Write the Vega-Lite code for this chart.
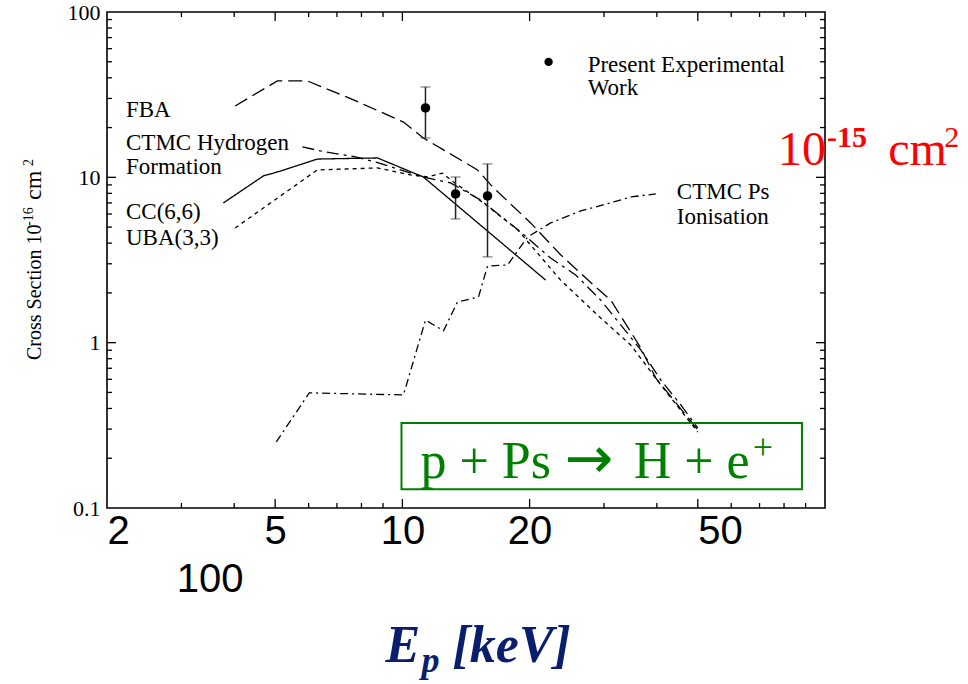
{
  "$schema": "https://vega.github.io/schema/vega-lite/v6.json",
  "width": 718,
  "height": 496,
  "autosize": "none",
  "padding": {"left": 107, "top": 12, "right": 143, "bottom": 176},
  "background": "white",
  "config": {"view": {"stroke": "black", "strokeWidth": 1.6}, "font": "Liberation Serif"},
  "datasets": {
    "curves": [
      {"model": "FBA", "x": 4.02, "y": 27.0}, {"model": "FBA", "x": 5.06, "y": 38.3}, {"model": "FBA", "x": 5.96, "y": 38.3},
      {"model": "FBA", "x": 7.66, "y": 29.4}, {"model": "FBA", "x": 10.06, "y": 21.6}, {"model": "FBA", "x": 11.21, "y": 17.3},
      {"model": "FBA", "x": 15.06, "y": 11.09}, {"model": "FBA", "x": 16.35, "y": 8.75}, {"model": "FBA", "x": 20.11, "y": 5.3},
      {"model": "FBA", "x": 23.68, "y": 3.4}, {"model": "FBA", "x": 28.68, "y": 2.17}, {"model": "FBA", "x": 31.12, "y": 1.81},
      {"model": "FBA", "x": 36.65, "y": 0.929}, {"model": "FBA", "x": 39.78, "y": 0.611}, {"model": "FBA", "x": 50.0, "y": 0.297},
      {"model": "CTMC H", "x": 5.8, "y": 15.3}, {"model": "CTMC H", "x": 6.39, "y": 14.45}, {"model": "CTMC H", "x": 7.74, "y": 13.29},
      {"model": "CTMC H", "x": 8.78, "y": 12.22}, {"model": "CTMC H", "x": 11.21, "y": 10.05}, {"model": "CTMC H", "x": 13.0, "y": 9.25},
      {"model": "CTMC H", "x": 15.3, "y": 7.3}, {"model": "CTMC H", "x": 19.04, "y": 4.67}, {"model": "CTMC H", "x": 22.43, "y": 3.25},
      {"model": "CTMC H", "x": 25.7, "y": 2.57}, {"model": "CTMC H", "x": 29.46, "y": 1.81}, {"model": "CTMC H", "x": 32.86, "y": 1.28},
      {"model": "CTMC H", "x": 36.65, "y": 0.904}, {"model": "CTMC H", "x": 40.88, "y": 0.594}, {"model": "CTMC H", "x": 45.59, "y": 0.42},
      {"model": "CTMC H", "x": 50.0, "y": 0.305},
      {"model": "CC", "x": 3.77, "y": 7.0}, {"model": "CC", "x": 4.69, "y": 10.2}, {"model": "CC", "x": 5.14, "y": 10.9},
      {"model": "CC", "x": 6.29, "y": 12.9}, {"model": "CC", "x": 8.73, "y": 13.1}, {"model": "CC", "x": 11.21, "y": 10.05},
      {"model": "CC", "x": 21.83, "y": 2.39},
      {"model": "UBA", "x": 4.02, "y": 4.94}, {"model": "UBA", "x": 6.29, "y": 11.09}, {"model": "UBA", "x": 8.73, "y": 11.4},
      {"model": "UBA", "x": 10.45, "y": 10.35}, {"model": "UBA", "x": 11.47, "y": 10.05}, {"model": "UBA", "x": 12.44, "y": 10.6},
      {"model": "UBA", "x": 13.21, "y": 9.38}, {"model": "UBA", "x": 15.56, "y": 7.0}, {"model": "UBA", "x": 18.74, "y": 4.81},
      {"model": "UBA", "x": 23.68, "y": 2.39}, {"model": "UBA", "x": 29.46, "y": 1.41}, {"model": "UBA", "x": 34.7, "y": 0.968},
      {"model": "UBA", "x": 40.88, "y": 0.555}, {"model": "UBA", "x": 50.0, "y": 0.288},
      {"model": "CTMC Ps", "x": 5.03, "y": 0.251}, {"model": "CTMC Ps", "x": 6.02, "y": 0.497}, {"model": "CTMC Ps", "x": 10.06, "y": 0.483},
      {"model": "CTMC Ps", "x": 11.34, "y": 1.37}, {"model": "CTMC Ps", "x": 12.51, "y": 1.18}, {"model": "CTMC Ps", "x": 13.5, "y": 1.76},
      {"model": "CTMC Ps", "x": 15.14, "y": 1.89}, {"model": "CTMC Ps", "x": 15.9, "y": 2.91}, {"model": "CTMC Ps", "x": 17.74, "y": 2.95},
      {"model": "CTMC Ps", "x": 19.79, "y": 4.36}, {"model": "CTMC Ps", "x": 22.43, "y": 5.3}, {"model": "CTMC Ps", "x": 26.42, "y": 6.26},
      {"model": "CTMC Ps", "x": 31.63, "y": 7.1}, {"model": "CTMC Ps", "x": 34.7, "y": 7.61}, {"model": "CTMC Ps", "x": 39.78, "y": 7.94}
    ],
    "exp": [
      {"x": 11.34, "y": 26.3, "lo": 17.3, "hi": 35.2},
      {"x": 13.36, "y": 7.94, "lo": 5.6, "hi": 10.05},
      {"x": 15.9, "y": 7.72, "lo": 3.3, "hi": 12.05}
    ],
    "labels": [
      {"x": 2.218, "y": 25.6, "text": "FBA"},
      {"x": 2.218, "y": 16.15, "text": "CTMC Hydrogen"},
      {"x": 2.218, "y": 11.56, "text": "Formation"},
      {"x": 2.218, "y": 6.18, "text": "CC(6,6)"},
      {"x": 2.218, "y": 4.3, "text": "UBA(3,3)"},
      {"x": 27.44, "y": 47.9, "text": "Present Experimental"},
      {"x": 27.44, "y": 34.7, "text": "Work"},
      {"x": 44.6, "y": 8.16, "text": "CTMC Ps"},
      {"x": 44.6, "y": 5.76, "text": "Ionisation"}
    ],
    "xticks": [
      {"x": 5, "y": 0.1, "y2": 0.1134}, {"x": 10, "y": 0.1, "y2": 0.1134}, {"x": 20, "y": 0.1, "y2": 0.1134}, {"x": 50, "y": 0.1, "y2": 0.1134},
      {"x": 5, "y": 88.2, "y2": 100}, {"x": 10, "y": 88.2, "y2": 100}, {"x": 20, "y": 88.2, "y2": 100}, {"x": 50, "y": 88.2, "y2": 100},
      {"x": 3, "y": 0.1, "y2": 0.1072}, {"x": 4, "y": 0.1, "y2": 0.1072}, {"x": 6, "y": 0.1, "y2": 0.1072}, {"x": 7, "y": 0.1, "y2": 0.1072},
      {"x": 8, "y": 0.1, "y2": 0.1072}, {"x": 9, "y": 0.1, "y2": 0.1072}, {"x": 30, "y": 0.1, "y2": 0.1072}, {"x": 40, "y": 0.1, "y2": 0.1072},
      {"x": 60, "y": 0.1, "y2": 0.1072}, {"x": 70, "y": 0.1, "y2": 0.1072}, {"x": 80, "y": 0.1, "y2": 0.1072}, {"x": 90, "y": 0.1, "y2": 0.1072},
      {"x": 3, "y": 93.3, "y2": 100}, {"x": 4, "y": 93.3, "y2": 100}, {"x": 6, "y": 93.3, "y2": 100}, {"x": 7, "y": 93.3, "y2": 100},
      {"x": 8, "y": 93.3, "y2": 100}, {"x": 9, "y": 93.3, "y2": 100}, {"x": 30, "y": 93.3, "y2": 100}, {"x": 40, "y": 93.3, "y2": 100},
      {"x": 60, "y": 93.3, "y2": 100}, {"x": 70, "y": 93.3, "y2": 100}, {"x": 80, "y": 93.3, "y2": 100}, {"x": 90, "y": 93.3, "y2": 100}
    ],
    "yticks": [
      {"y": 1, "x": 2, "x2": 2.1}, {"y": 10, "x": 2, "x2": 2.1}, {"y": 1, "x": 95.2, "x2": 100}, {"y": 10, "x": 95.2, "x2": 100},
      {"y": 0.2, "x": 2, "x2": 2.055}, {"y": 0.3, "x": 2, "x2": 2.055}, {"y": 0.4, "x": 2, "x2": 2.055}, {"y": 0.5, "x": 2, "x2": 2.055},
      {"y": 0.6, "x": 2, "x2": 2.055}, {"y": 0.7, "x": 2, "x2": 2.055}, {"y": 0.8, "x": 2, "x2": 2.055}, {"y": 0.9, "x": 2, "x2": 2.055},
      {"y": 2, "x": 2, "x2": 2.055}, {"y": 3, "x": 2, "x2": 2.055}, {"y": 4, "x": 2, "x2": 2.055}, {"y": 5, "x": 2, "x2": 2.055},
      {"y": 6, "x": 2, "x2": 2.055}, {"y": 7, "x": 2, "x2": 2.055}, {"y": 8, "x": 2, "x2": 2.055}, {"y": 9, "x": 2, "x2": 2.055},
      {"y": 20, "x": 2, "x2": 2.055}, {"y": 30, "x": 2, "x2": 2.055}, {"y": 40, "x": 2, "x2": 2.055}, {"y": 50, "x": 2, "x2": 2.055},
      {"y": 60, "x": 2, "x2": 2.055}, {"y": 70, "x": 2, "x2": 2.055}, {"y": 80, "x": 2, "x2": 2.055}, {"y": 90, "x": 2, "x2": 2.055},
      {"y": 0.2, "x": 97.3, "x2": 100}, {"y": 0.3, "x": 97.3, "x2": 100}, {"y": 0.4, "x": 97.3, "x2": 100}, {"y": 0.5, "x": 97.3, "x2": 100},
      {"y": 0.6, "x": 97.3, "x2": 100}, {"y": 0.7, "x": 97.3, "x2": 100}, {"y": 0.8, "x": 97.3, "x2": 100}, {"y": 0.9, "x": 97.3, "x2": 100},
      {"y": 2, "x": 97.3, "x2": 100}, {"y": 3, "x": 97.3, "x2": 100}, {"y": 4, "x": 97.3, "x2": 100}, {"y": 5, "x": 97.3, "x2": 100},
      {"y": 6, "x": 97.3, "x2": 100}, {"y": 7, "x": 97.3, "x2": 100}, {"y": 8, "x": 97.3, "x2": 100}, {"y": 9, "x": 97.3, "x2": 100},
      {"y": 20, "x": 97.3, "x2": 100}, {"y": 30, "x": 97.3, "x2": 100}, {"y": 40, "x": 97.3, "x2": 100}, {"y": 50, "x": 97.3, "x2": 100},
      {"y": 60, "x": 97.3, "x2": 100}, {"y": 70, "x": 97.3, "x2": 100}, {"y": 80, "x": 97.3, "x2": 100}, {"y": 90, "x": 97.3, "x2": 100}
    ]
  },
  "resolve": {"axis": {"x": "independent", "y": "independent"}},
  "layer": [
    {
      "data": {"name": "xticks"},
      "mark": {"type": "rule", "color": "black", "strokeWidth": 1.3},
      "encoding": {
        "x": {"field": "x", "type": "quantitative", "scale": {"type": "log", "domain": [2, 100], "nice": false}, "axis": null},
        "y": {"field": "y", "type": "quantitative", "scale": {"type": "log", "domain": [0.1, 100], "nice": false}, "axis": null},
        "y2": {"field": "y2"}
      }
    },
    {
      "data": {"name": "yticks"},
      "mark": {"type": "rule", "color": "black", "strokeWidth": 1.3},
      "encoding": {
        "x": {"field": "x", "type": "quantitative", "scale": {"type": "log", "domain": [2, 100], "nice": false}, "axis": null},
        "x2": {"field": "x2"},
        "y": {"field": "y", "type": "quantitative", "scale": {"type": "log", "domain": [0.1, 100], "nice": false}, "axis": null}
      }
    },
    {
      "data": {"name": "curves"},
      "mark": {"type": "line", "color": "black", "strokeWidth": 1.3},
      "encoding": {
        "x": {"field": "x", "type": "quantitative", "scale": {"type": "log", "domain": [2, 100], "nice": false},
          "axis": {"orient": "bottom", "values": [2, 5, 10, 20, 50], "format": "d",
            "labelFont": "Liberation Sans", "labelFontSize": 40, "labelColor": "black",
            "labelAlign": {"condition": {"test": "datum.value==2 || datum.value==50", "value": "left"}, "value": "center"},
            "labelFlush": false, "labelOverlap": false, "labelBound": false, "labelPadding": 3,
            "ticks": false, "domain": false, "grid": false, "title": null}},
        "y": {"field": "y", "type": "quantitative", "scale": {"type": "log", "domain": [0.1, 100], "nice": false},
          "axis": {"orient": "left", "values": [0.1, 1, 10, 100], "format": "~g",
            "labelFont": "Liberation Serif", "labelFontSize": 22, "labelColor": "black", "labelPadding": 7,
            "labelFlush": false, "labelOverlap": false, "labelBound": false,
            "ticks": false, "domain": false, "grid": false, "title": null}},
        "detail": {"field": "model"},
        "strokeDash": {"field": "model", "type": "nominal",
          "scale": {"domain": ["FBA", "CTMC H", "CC", "UBA", "CTMC Ps"], "range": [[14, 6], [12, 5, 3, 5], [1, 0], [4, 4], [8, 4, 2, 4]]},
          "legend": null}
      }
    },
    {
      "data": {"name": "exp"},
      "mark": {"type": "errorbar", "ticks": {"size": 10, "color": "#222", "strokeWidth": 1.5}, "rule": {"color": "#222", "strokeWidth": 1.5}},
      "encoding": {
        "x": {"field": "x", "type": "quantitative", "scale": {"type": "log", "domain": [2, 100], "nice": false}, "axis": null},
        "y": {"field": "lo", "type": "quantitative", "scale": {"type": "log", "domain": [0.1, 100], "nice": false}, "axis": null},
        "y2": {"field": "hi"}
      }
    },
    {
      "data": {"name": "exp"},
      "mark": {"type": "point", "filled": true, "color": "black", "size": 90, "opacity": 1},
      "encoding": {
        "x": {"field": "x", "type": "quantitative", "scale": {"type": "log", "domain": [2, 100], "nice": false}, "axis": null},
        "y": {"field": "y", "type": "quantitative", "scale": {"type": "log", "domain": [0.1, 100], "nice": false}, "axis": null}
      }
    },
    {
      "data": {"values": [{"x": 22.18, "y": 49.9}]},
      "mark": {"type": "point", "filled": true, "color": "black", "size": 70, "opacity": 1},
      "encoding": {
        "x": {"field": "x", "type": "quantitative", "scale": {"type": "log", "domain": [2, 100], "nice": false}, "axis": null},
        "y": {"field": "y", "type": "quantitative", "scale": {"type": "log", "domain": [0.1, 100], "nice": false}, "axis": null}
      }
    },
    {
      "data": {"name": "labels"},
      "mark": {"type": "text", "font": "Liberation Serif", "fontSize": 23, "color": "black", "align": "left", "baseline": "middle"},
      "encoding": {
        "x": {"field": "x", "type": "quantitative", "scale": {"type": "log", "domain": [2, 100], "nice": false}, "axis": null},
        "y": {"field": "y", "type": "quantitative", "scale": {"type": "log", "domain": [0.1, 100], "nice": false}, "axis": null},
        "text": {"field": "text"}
      }
    },
    {
      "data": {"values": [{"x": 1.395, "y": 0.785, "text": "Cross Section 10"}]},
      "mark": {"type": "text", "font": "Liberation Serif", "fontSize": 20, "color": "black", "align": "left", "baseline": "alphabetic", "angle": 270},
      "encoding": {
        "x": {"field": "x", "type": "quantitative", "scale": {"type": "log", "domain": [2, 100], "nice": false}, "axis": null},
        "y": {"field": "y", "type": "quantitative", "scale": {"type": "log", "domain": [0.1, 100], "nice": false}, "axis": null},
        "text": {"field": "text"}
      }
    },
    {
      "data": {"values": [{"x": 1.395, "y": 7.3, "text": "cm"}]},
      "mark": {"type": "text", "font": "Liberation Serif", "fontSize": 24, "color": "black", "align": "left", "baseline": "alphabetic", "angle": 270},
      "encoding": {
        "x": {"field": "x", "type": "quantitative", "scale": {"type": "log", "domain": [2, 100], "nice": false}, "axis": null},
        "y": {"field": "y", "type": "quantitative", "scale": {"type": "log", "domain": [0.1, 100], "nice": false}, "axis": null},
        "text": {"field": "text"}
      }
    },
    {
      "data": {"values": [{"x": 1.335, "y": 5.08, "text": "-16"}, {"x": 1.335, "y": 11.7, "text": "2"}]},
      "mark": {"type": "text", "font": "Liberation Serif", "fontSize": 14, "color": "black", "align": "left", "baseline": "alphabetic", "angle": 270},
      "encoding": {
        "x": {"field": "x", "type": "quantitative", "scale": {"type": "log", "domain": [2, 100], "nice": false}, "axis": null},
        "y": {"field": "y", "type": "quantitative", "scale": {"type": "log", "domain": [0.1, 100], "nice": false}, "axis": null},
        "text": {"field": "text"}
      }
    },
    {
      "data": {"values": [{"x": 9.95, "x2": 88.2, "y": 0.327, "y2": 0.13}]},
      "mark": {"type": "rect", "fill": "white", "fillOpacity": 0, "stroke": "#008000", "strokeWidth": 2},
      "encoding": {
        "x": {"field": "x", "type": "quantitative", "scale": {"type": "log", "domain": [2, 100], "nice": false}, "axis": null},
        "x2": {"field": "x2"},
        "y": {"field": "y", "type": "quantitative", "scale": {"type": "log", "domain": [0.1, 100], "nice": false}, "axis": null},
        "y2": {"field": "y2"}
      }
    },
    {
      "data": {"values": [{"x": 11.03, "y": 0.152, "text": "p + Ps"}, {"x": 35.27, "y": 0.152, "text": "H + e"}]},
      "mark": {"type": "text", "font": "Liberation Serif", "fontSize": 52, "color": "#008000", "align": "left", "baseline": "alphabetic"},
      "encoding": {
        "x": {"field": "x", "type": "quantitative", "scale": {"type": "log", "domain": [2, 100], "nice": false}, "axis": null},
        "y": {"field": "y", "type": "quantitative", "scale": {"type": "log", "domain": [0.1, 100], "nice": false}, "axis": null},
        "text": {"field": "text"}
      }
    },
    {
      "data": {"values": [{"x": 24.2, "y": 0.152, "text": "→"}]},
      "mark": {"type": "text", "font": "DejaVu Sans", "fontSize": 58, "fontWeight": "normal", "color": "#008000", "align": "left", "baseline": "alphabetic"},
      "encoding": {
        "x": {"field": "x", "type": "quantitative", "scale": {"type": "log", "domain": [2, 100], "nice": false}, "axis": null},
        "y": {"field": "y", "type": "quantitative", "scale": {"type": "log", "domain": [0.1, 100], "nice": false}, "axis": null},
        "text": {"field": "text"}
      }
    },
    {
      "data": {"values": [{"x": 67.5, "y": 0.197, "text": "+"}]},
      "mark": {"type": "text", "font": "Liberation Serif", "fontSize": 36, "color": "#008000", "align": "left", "baseline": "alphabetic"},
      "encoding": {
        "x": {"field": "x", "type": "quantitative", "scale": {"type": "log", "domain": [2, 100], "nice": false}, "axis": null},
        "y": {"field": "y", "type": "quantitative", "scale": {"type": "log", "domain": [0.1, 100], "nice": false}, "axis": null},
        "text": {"field": "text"}
      }
    },
    {
      "data": {"values": [{"x": 77.4, "y": 11.9, "text": "10"}, {"x": 141.1, "y": 11.9, "text": "cm"}]},
      "mark": {"type": "text", "font": "Liberation Serif", "fontSize": 48, "color": "#ff0000", "align": "left", "baseline": "alphabetic"},
      "encoding": {
        "x": {"field": "x", "type": "quantitative", "scale": {"type": "log", "domain": [2, 100], "nice": false}, "axis": null},
        "y": {"field": "y", "type": "quantitative", "scale": {"type": "log", "domain": [0.1, 100], "nice": false}, "axis": null},
        "text": {"field": "text"}
      }
    },
    {
      "data": {"values": [{"x": 101.1, "y": 15.3, "text": "-15"}]},
      "mark": {"type": "text", "font": "Liberation Serif", "fontSize": 30, "fontWeight": "bold", "color": "#ff0000", "align": "left", "baseline": "alphabetic"},
      "encoding": {
        "x": {"field": "x", "type": "quantitative", "scale": {"type": "log", "domain": [2, 100], "nice": false}, "axis": null},
        "y": {"field": "y", "type": "quantitative", "scale": {"type": "log", "domain": [0.1, 100], "nice": false}, "axis": null},
        "text": {"field": "text"}
      }
    },
    {
      "data": {"values": [{"x": 191.4, "y": 15.3, "text": "2"}]},
      "mark": {"type": "text", "font": "Liberation Serif", "fontSize": 30, "color": "#ff0000", "align": "left", "baseline": "alphabetic"},
      "encoding": {
        "x": {"field": "x", "type": "quantitative", "scale": {"type": "log", "domain": [2, 100], "nice": false}, "axis": null},
        "y": {"field": "y", "type": "quantitative", "scale": {"type": "log", "domain": [0.1, 100], "nice": false}, "axis": null},
        "text": {"field": "text"}
      }
    },
    {
      "data": {"values": [{"x": 3.51, "y": 0.0367, "text": "100"}]},
      "mark": {"type": "text", "font": "Liberation Sans", "fontSize": 40, "color": "black", "align": "center", "baseline": "middle"},
      "encoding": {
        "x": {"field": "x", "type": "quantitative", "scale": {"type": "log", "domain": [2, 100], "nice": false}, "axis": null},
        "y": {"field": "y", "type": "quantitative", "scale": {"type": "log", "domain": [0.1, 100], "nice": false}, "axis": null},
        "text": {"field": "text"}
      }
    },
    {
      "data": {"values": [{"x": 9.12, "y": 0.0117, "text": "E"}, {"x": 13.14, "y": 0.0117, "text": "[keV]"}]},
      "mark": {"type": "text", "font": "Liberation Serif", "fontSize": 52, "fontWeight": "bold", "fontStyle": "italic", "color": "#0a1e6e", "align": "left", "baseline": "alphabetic"},
      "encoding": {
        "x": {"field": "x", "type": "quantitative", "scale": {"type": "log", "domain": [2, 100], "nice": false}, "axis": null},
        "y": {"field": "y", "type": "quantitative", "scale": {"type": "log", "domain": [0.1, 100], "nice": false}, "axis": null},
        "text": {"field": "text"}
      }
    },
    {
      "data": {"values": [{"x": 11.1, "y": 0.0102, "text": "p"}]},
      "mark": {"type": "text", "font": "Liberation Serif", "fontSize": 36, "fontWeight": "bold", "fontStyle": "italic", "color": "#0a1e6e", "align": "left", "baseline": "alphabetic"},
      "encoding": {
        "x": {"field": "x", "type": "quantitative", "scale": {"type": "log", "domain": [2, 100], "nice": false}, "axis": null},
        "y": {"field": "y", "type": "quantitative", "scale": {"type": "log", "domain": [0.1, 100], "nice": false}, "axis": null},
        "text": {"field": "text"}
      }
    }
  ]
}
